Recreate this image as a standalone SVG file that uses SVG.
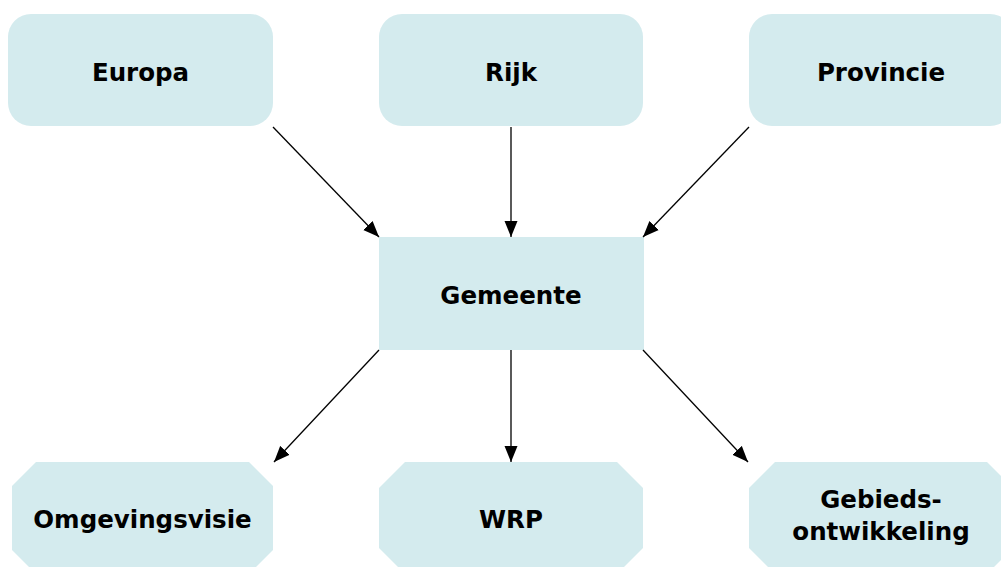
<svg xmlns="http://www.w3.org/2000/svg" width="1001" height="567" viewBox="0 0 1001 567">
<style>
.box{fill:#D4EBEE;stroke:none}
.lbl{font-family:"DejaVu Sans","Liberation Sans",sans-serif;font-weight:bold;font-size:24.5px;fill:#000;text-anchor:middle}
.conn{stroke:#000;stroke-width:1.3;fill:none;marker-end:url(#arr)}
</style>
<defs>
<marker id="arr" markerUnits="userSpaceOnUse" markerWidth="17" markerHeight="14" refX="16" refY="7" orient="auto">
<path d="M0,0.5 L16,7 L0,13.5 z" fill="#000"/>
</marker>
</defs>
<rect width="1001" height="567" fill="#fff"/>
<g id="europa"><rect class="box" x="8" y="14" width="265" height="112" rx="23"/><text class="lbl" x="140.5" y="81">Europa</text></g>
<g id="rijk"><rect class="box" x="379" y="14" width="264" height="112" rx="23"/><text class="lbl" x="511" y="81">Rijk</text></g>
<g id="provincie"><rect class="box" x="749" y="14" width="264" height="112" rx="23"/><text class="lbl" x="881" y="81">Provincie</text></g>
<g id="gemeente"><rect class="box" x="379" y="237" width="265" height="113"/><text class="lbl" x="511" y="304">Gemeente</text></g>
<g id="omgevingsvisie"><polygon class="box" points="36,462 249,462 273,486 273,550 249,574 36,574 12,550 12,486"/><text class="lbl" x="142.5" y="528">Omgevingsvisie</text></g>
<g id="wrp"><polygon class="box" points="405,462 617,462 643,488 643,548 617,574 405,574 379,548 379,488"/><text class="lbl" x="511" y="528">WRP</text></g>
<g id="gebiedsontwikkeling"><polygon class="box" points="775,462 987,462 1013,488 1013,548 987,574 775,574 749,548 749,488"/><text class="lbl" x="881" y="508">Gebieds-</text><text class="lbl" x="881" y="540">ontwikkeling</text></g>
<g id="connectors">
<line class="conn" x1="273" y1="127" x2="379" y2="237"/>
<line class="conn" x1="511" y1="127" x2="511" y2="237"/>
<line class="conn" x1="749" y1="127" x2="643" y2="237"/>
<line class="conn" x1="379" y1="350" x2="274" y2="462"/>
<line class="conn" x1="511" y1="350" x2="511" y2="462"/>
<line class="conn" x1="643" y1="350" x2="748" y2="462"/>
</g>
</svg>
